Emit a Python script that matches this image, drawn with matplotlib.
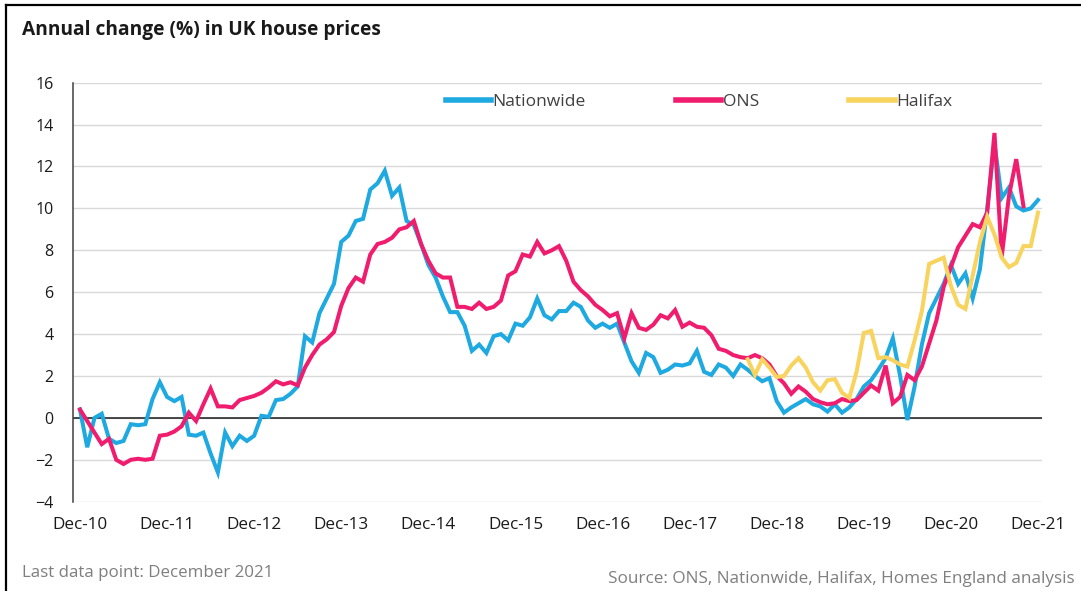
import numpy as np
import matplotlib
matplotlib.use("Agg")
import matplotlib.pyplot as plt
from matplotlib.lines import Line2D

# ---------------- data (monthly, Dec-10 .. Dec-21) ----------------
tick_labels = ["Dec-10", "Dec-11", "Dec-12", "Dec-13", "Dec-14", "Dec-15",
               "Dec-16", "Dec-17", "Dec-18", "Dec-19", "Dec-20", "Dec-21"]

nationwide = [
    0.4, -1.4, 0.0, 0.2, -1.0, -1.2, -1.1, -0.3, -0.35, -0.3, 0.9, 1.7,
    1.0, 0.8, 1.0, -0.8, -0.85, -0.7, -1.7, -2.6, -0.7, -1.35, -0.85, -1.1,
    -0.85, 0.1, 0.05, 0.85, 0.9, 1.15, 1.5, 3.9, 3.6, 5.0, 5.7, 6.4,
    8.4, 8.7, 9.4, 9.5, 10.9, 11.2, 11.8, 10.6, 11.0, 9.4, 9.2, 8.3,
    7.3, 6.7, 5.8, 5.05, 5.05, 4.4, 3.2, 3.5, 3.1, 3.9, 4.0, 3.7,
    4.5, 4.4, 4.8, 5.7, 4.9, 4.7, 5.1, 5.1, 5.5, 5.3, 4.65, 4.3,
    4.5, 4.3, 4.5, 3.6, 2.7, 2.15, 3.1, 2.9, 2.15, 2.3, 2.55, 2.5,
    2.6, 3.2, 2.2, 2.05, 2.55, 2.4, 2.0, 2.55, 2.3, 2.0, 1.75, 1.9,
    0.8, 0.25, 0.5, 0.7, 0.9, 0.65, 0.55, 0.3, 0.65, 0.25, 0.5, 0.9,
    1.5, 1.8, 2.3, 2.85, 3.8, 2.0, -0.1, 1.5, 3.5, 5.0, 5.7, 6.4,
    7.3, 6.4, 6.9, 5.7, 7.1, 10.0, 13.1, 10.5, 11.0, 10.1, 9.9, 10.0,
    10.4,
]

ons = [
    0.4, -0.15, -0.7, -1.25, -1.0, -2.0, -2.2, -2.0, -1.95, -2.0, -1.95, -0.85,
    -0.8, -0.65, -0.4, 0.25, -0.15, 0.65, 1.4, 0.55, 0.55, 0.5, 0.85, 0.95,
    1.05, 1.2, 1.45, 1.75, 1.6, 1.7, 1.55, 2.4, 3.0, 3.5, 3.75, 4.1,
    5.35, 6.2, 6.7, 6.5, 7.8, 8.3, 8.4, 8.6, 9.0, 9.1, 9.4, 8.3,
    7.5, 6.9, 6.7, 6.7, 5.3, 5.3, 5.2, 5.5, 5.2, 5.3, 5.6, 6.8,
    7.0, 7.8, 7.7, 8.4, 7.85, 8.0, 8.2, 7.5, 6.5, 6.1, 5.8, 5.4,
    5.15, 4.85, 5.0, 3.8, 5.0, 4.3, 4.2, 4.45, 4.9, 4.75, 5.15, 4.35,
    4.55, 4.35, 4.3, 3.95, 3.3, 3.2, 3.0, 2.9, 2.85, 3.0, 2.85, 2.55,
    2.0, 1.65, 1.15, 1.5, 1.25, 0.9, 0.75, 0.65, 0.7, 0.9, 0.8, 0.85,
    1.2, 1.55, 1.3, 2.5, 0.7, 1.0, 2.05, 1.8, 2.45, 3.55, 4.65, 6.25,
    7.2, 8.15, 8.7, 9.25, 9.1, 9.8, 13.6, 7.7, 10.6, 12.35, 10.1,
]

halifax_start = 92  # Aug-18
halifax = [
    2.8, 2.05, 2.8, 2.4, 1.95, 2.0, 2.5, 2.85, 2.4, 1.7, 1.3, 1.8,
    1.85, 1.2, 0.95, 2.2, 4.05, 4.15, 2.85, 2.9, 2.75, 2.55, 2.45, 3.7,
    5.1, 7.35, 7.5, 7.65, 6.3, 5.4, 5.2, 6.8, 8.4, 9.6, 8.75, 7.65,
    7.2, 7.4, 8.2, 8.2, 9.8,
]

# ---------------- styling ----------------
BLUE = "#1FA9E1"
PINK = "#F01C6E"
YELLOW = "#F8D35E"
FONT = ["Open Sans", "DejaVu Sans"]
plt.rcParams["font.family"] = FONT

W, H = 1081, 591
fig = plt.figure(figsize=(W / 100, H / 100), dpi=100)
fig.patch.set_facecolor("white")

ax = fig.add_axes([73 / W, 1 - 501.7 / H, (1042 - 73) / W, (501.7 - 82.7) / H])

x_nat = np.arange(len(nationwide))
x_ons = np.arange(len(ons))
x_hal = np.arange(halifax_start, halifax_start + len(halifax))

lw = 2.9
ax.plot(x_nat, nationwide, color=BLUE, lw=lw, label="Nationwide", zorder=3,
        solid_joinstyle="miter")
ax.plot(x_ons, ons, color=PINK, lw=lw, label="ONS", zorder=4,
        solid_joinstyle="miter")
ax.plot(x_hal, halifax, color=YELLOW, lw=lw, label="Halifax", zorder=5,
        solid_joinstyle="miter")

ax.set_xlim(-0.96, 132.55)
ax.set_ylim(-4, 16)
ax.set_yticks(np.arange(-4, 17, 2))
ax.set_xticks(np.arange(0, 133, 12))
ax.set_xticklabels(tick_labels)

ax.grid(axis="y", color="#D9D9D9", lw=1.0, zorder=0)
ax.axhline(0, color="#1a1a1a", lw=1.1, zorder=2)
for s in ["top", "right", "bottom"]:
    ax.spines[s].set_visible(False)
ax.spines["left"].set_color("#404040")
ax.spines["left"].set_linewidth(1.1)

ax.tick_params(axis="both", length=0, colors="#1a1a1a")
ax.tick_params(axis="x", labelsize=12.3, pad=11)
ax.tick_params(axis="y", labelsize=11.5, pad=14)

leg = ax.legend(loc="center", bbox_to_anchor=(0.646, 0.954), ncol=3,
                frameon=False, fontsize=12.5, handlelength=2.6,
                handletextpad=0.1, columnspacing=5.2)
for t in leg.get_texts():
    t.set_color("#404040")
for h in leg.get_lines():
    h.set_linewidth(4)

# titles and notes
fig.text(22 / W, 1 - 35 / H, "Annual change (%) in UK house prices",
         fontsize=13.8, fontweight="bold", color="#1a1a1a", va="baseline",
         ha="left")
fig.text(22 / W, 1 - 577 / H, "Last data point: December 2021",
         fontsize=12.2, color="#7f7f7f", va="baseline", ha="left")
fig.text(1075 / W, 1 - 583 / H,
         "Source: ONS, Nationwide, Halifax, Homes England analysis",
         fontsize=12.3, color="#7f7f7f", va="baseline", ha="right")

# frame lines (left and top)
fig.add_artist(Line2D([5.5 / W, 5.5 / W], [0, 1 - 5 / H],
                      transform=fig.transFigure, color="black", lw=1.6))
fig.add_artist(Line2D([5.5 / W, 1], [1 - 5 / H, 1 - 5 / H],
                      transform=fig.transFigure, color="black", lw=1.6))

fig.savefig("out.png", dpi=100, facecolor="white")
